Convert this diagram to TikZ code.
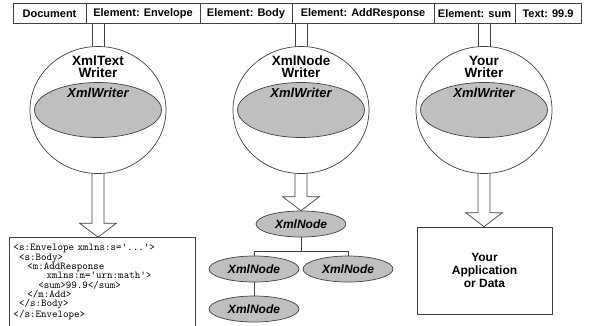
\documentclass[tikz,border=0pt]{standalone}
\usepackage{fontspec}
\setsansfont{Liberation Sans}
\usetikzlibrary{calc,positioning,shapes.geometric}
\newcommand{\cind}[1]{\hspace*{#1\dimexpr0.525em\relax}}
\newcommand{\tightlines}{\lineskiplimit=-20pt\relax}

\begin{document}
\begin{tikzpicture}[x=1bp,y=-1bp,line width=0.7bp,
  cell/.style={draw=black!75,fill=white,minimum height=20bp,inner sep=0pt,outer sep=0pt,
    font=\sffamily\bfseries\fontsize{11bp}{13bp}\selectfont},
  writer/.style={ellipse,draw=black!75,fill=white,minimum width=136bp,minimum height=127bp},
  wname/.style={align=center,inner sep=0pt,font=\sffamily\bfseries\fontsize{13.5bp}{12bp}\selectfont},
  core/.style={ellipse,draw=black!75,fill=gray!50,minimum width=127bp,minimum height=55bp},
  coretext/.style={inner sep=0pt,font=\sffamily\bfseries\itshape\fontsize{13bp}{15bp}\selectfont},
  xnode/.style={ellipse,draw=black!75,fill=gray!50,minimum width=90bp,minimum height=26bp,inner sep=0pt,
    font=\sffamily\bfseries\itshape\fontsize{12bp}{14bp}\selectfont},
  codebox/.style={draw=black!75,fill=white,minimum width=186bp,minimum height=89bp,
    text width=177bp,inner xsep=4.5bp,inner ysep=0pt,align=left,
    font=\ttfamily\fontsize{10.5bp}{9.3bp}\selectfont},
  appbox/.style={draw=black!75,fill=white,minimum width=135bp,minimum height=87bp,align=center,
    font=\sffamily\bfseries\fontsize{12bp}{13bp}\selectfont},
  pipe/.style={draw=black!75,fill=white},
  link/.style={draw=black!75}]
\useasboundingbox (0,0) rectangle (590,325);

\node[cell,minimum width=73bp] (doc) at (49.5,13.5) {Document};
\node[cell,minimum width=114bp,right=0pt of doc] (env) {Element: Envelope};
\node[cell,minimum width=92bp,right=0pt of env] (body) {Element: Body};
\node[cell,minimum width=142bp,right=0pt of body] (add) {Element: AddResponse};
\node[cell,minimum width=81bp,right=0pt of add] (sum) {Element: sum};
\node[cell,minimum width=66bp,right=0pt of sum] (txt) {Text: 99.9};

\coordinate (w1) at (98,110);
\coordinate (w2) at (301,110);
\coordinate (w3) at (484,110);

\node[codebox] (code) at (102,282) {\tightlines
<s:Envelope xmlns:s='...'>\\
\cind1<s:Body>\\
\cind{2.5}<m:AddResponse\\
\cind6xmlns:m='urn:math'>\\
\cind{4.5}<sum>99.9</sum>\\
\cind{2.5}</m:Add>\\
\cind1</s:Body>\\
</s:Envelope>};

\node[xnode] (root) at (301,224) {XmlNode};
\node[xnode] (kid1) at (254,269) {XmlNode};
\node[xnode] (kid2) at (348,269) {XmlNode};
\node[xnode] (kid3) at (254,309) {XmlNode};
\draw[link] (root.south) -- ++(0,14) -| (kid1.north);
\draw[link] (root.south) -- ++(0,14) -| (kid2.north);
\draw[link] (kid1.south) -- (kid3.north);

\node[appbox] (app) at (484.5,270.5) {Your\\Application\\or Data};

\foreach \c/\src in {w1/env,w2/add,w3/sum}
  \draw[pipe] ($(\src.south -| \c)+(-6,0)$) rectangle ($(\c)+(6,0)$);
\foreach \c/\dst in {w1/code,w2/root,w3/app}
  \draw[pipe] ($(\c)+(-6,0)$) -- ($(\c |- \dst.north)+(-6,-14)$) -- ++(-12.5,0)
    -- (\c |- \dst.north) -- ($(\c |- \dst.north)+(18.5,-14)$) -- ++(-12.5,0)
    -- ($(\c)+(6,0)$);

\foreach \c/\nm in {w1/{XmlText\\Writer},w2/{XmlNode\\Writer},w3/{Your\\Writer}}{
  \node[writer] (\c-shell) at (\c) {};
  \node[wname] (\c-name) at ($(\c)+(0,-43)$) {\nm};
  \node[core] (\c-core) at (\c) {};
  \node[coretext] (\c-text) at ($(\c-core.north)+(0,10.5)$) {XmlWriter};
}
\end{tikzpicture}
\end{document}
